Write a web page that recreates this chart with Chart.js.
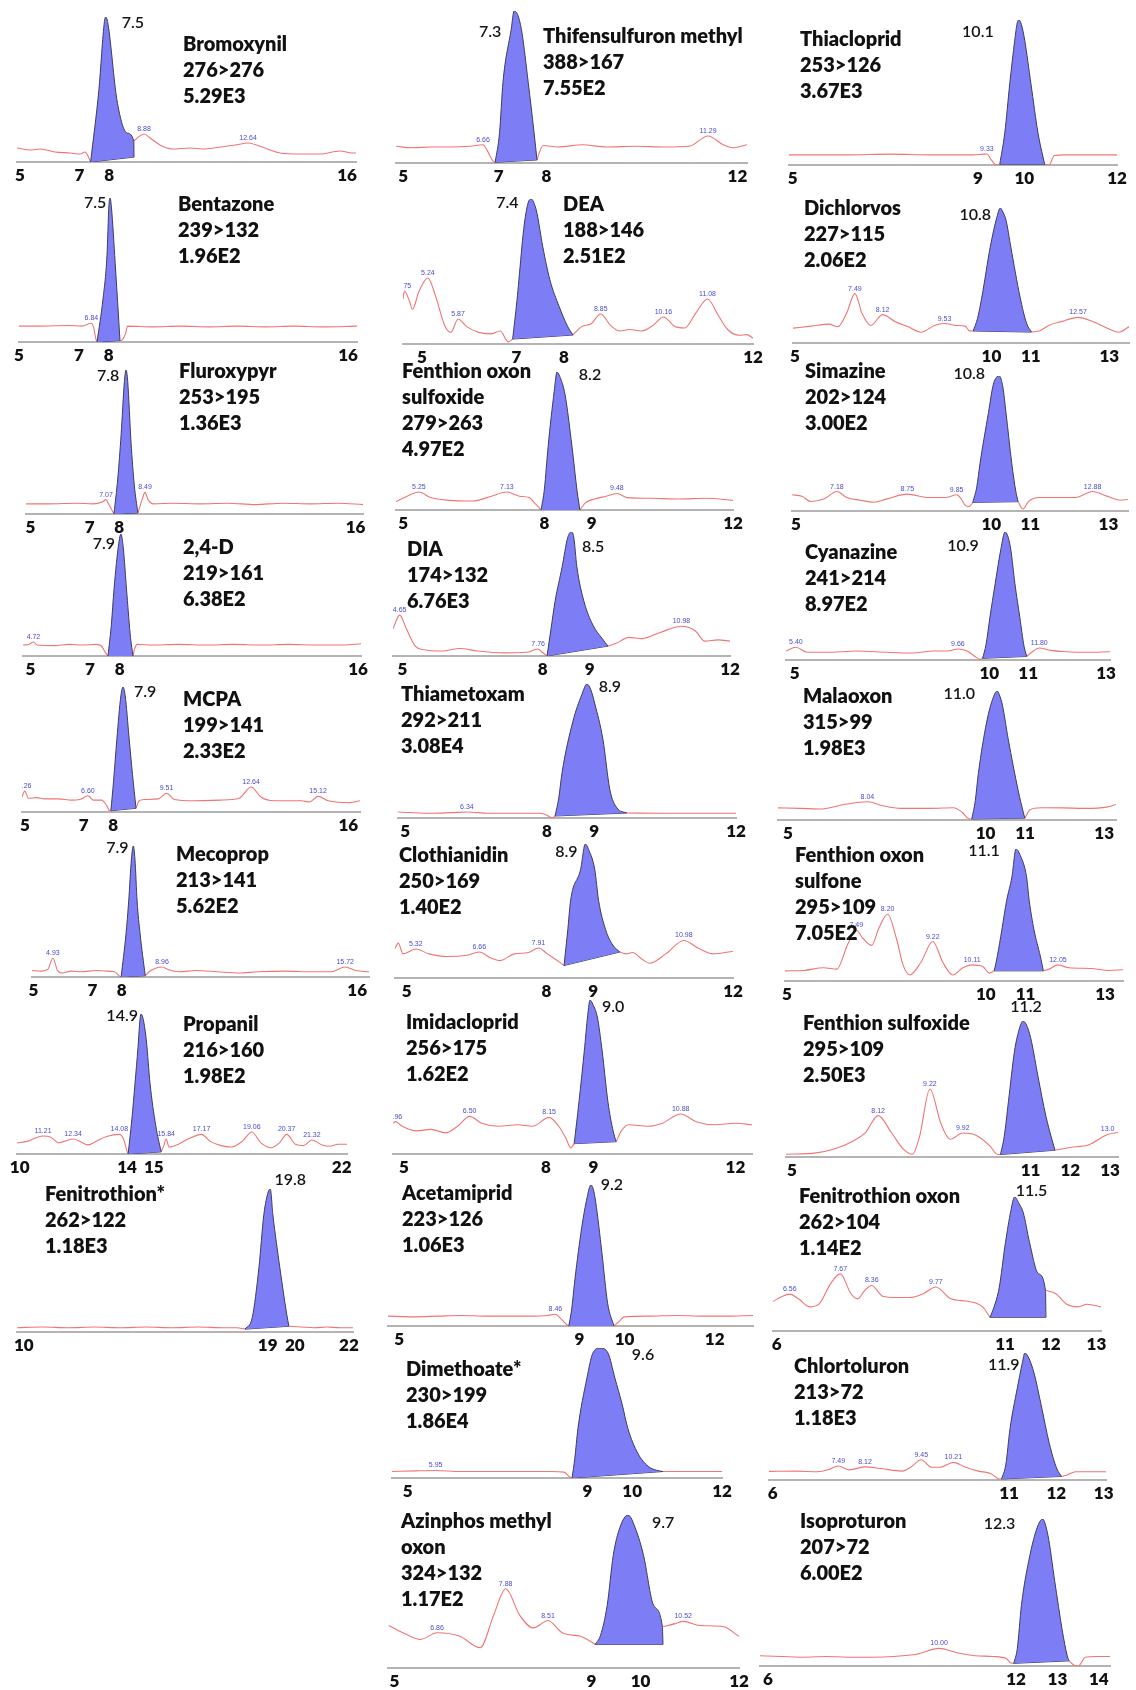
<!DOCTYPE html>
<html>
<head>
<meta charset="utf-8">
<script src="https://cdn.jsdelivr.net/npm/chart.js@4.4.1/dist/chart.umd.min.js"></script>
<style>
  html, body { margin: 0; padding: 0; background: #fff; }
  body { position: relative; width: 1136px; height: 1690px; overflow: hidden; font-family: Lato, "Open Sans", sans-serif; }
  canvas { position: absolute; }
  .info { position: absolute; font: 800 20px Lato, sans-serif; line-height: 26px; color: #111; white-space: nowrap; }
</style>
</head>
<body>
<script>
// ---- MRM chromatograms: one panel per compound, columns top to bottom ----

const compounds = [
  "Bromoxynil", "Bentazone", "Fluroxypyr", "2,4-D", "MCPA", "Mecoprop", "Propanil", "Fenitrothion*",
  "Thifensulfuron methyl", "DEA", "Fenthion oxon\nsulfoxide", "DIA", "Thiametoxam", "Clothianidin",
  "Imidacloprid", "Acetamiprid", "Dimethoate*", "Azinphos methyl\noxon",
  "Thiacloprid", "Dichlorvos", "Simazine", "Cyanazine", "Malaoxon", "Fenthion oxon\nsulfone",
  "Fenthion sulfoxide", "Fenitrothion oxon", "Chlortoluron", "Isoproturon"
];

const transitions = [
  "276>276", "239>132", "253>195", "219>161", "199>141", "213>141", "216>160", "262>122",
  "388>167", "188>146", "279>263", "174>132", "292>211", "250>169", "256>175", "223>126", "230>199", "324>132",
  "253>126", "227>115", "202>124", "241>214", "315>99", "295>109", "295>109", "262>104", "213>72", "207>72"
];

const areas = [
  "5.29E3", "1.96E2", "1.36E3", "6.38E2", "2.33E2", "5.62E2", "1.98E2", "1.18E3",
  "7.55E2", "2.51E2", "4.97E2", "6.76E3", "3.08E4", "1.40E2", "1.62E2", "1.06E3", "1.86E4", "1.17E2",
  "3.67E3", "2.06E2", "3.00E2", "8.97E2", "1.98E3", "7.05E2", "2.50E3", "1.14E2", "1.18E3", "6.00E2"
];

// retention time (min) of the integrated peak
const apexRT = [
  7.5, 7.5, 7.8, 7.9, 7.9, 7.9, 14.9, 19.8,
  7.3, 7.4, 8.2, 8.5, 8.9, 8.9, 9.0, 9.2, 9.6, 9.7,
  10.1, 10.8, 10.8, 10.9, 11.0, 11.1, 11.2, 11.5, 11.9, 12.3
];

const tickLabels = [
  [5, 7, 8, 16], [5, 7, 8, 16], [5, 7, 8, 16], [5, 7, 8, 16], [5, 7, 8, 16], [5, 7, 8, 16], [10, 14, 15, 22], [10, 19, 20, 22],
  [5, 7, 8, 12], [5, 7, 8, 12], [5, 8, 9, 12], [5, 8, 9, 12], [5, 8, 9, 12], [5, 8, 9, 12], [5, 8, 9, 12], [5, 9, 10, 12], [5, 9, 10, 12], [5, 9, 10, 12],
  [5, 9, 10, 12], [5, 10, 11, 13], [5, 10, 11, 13], [5, 10, 11, 13], [5, 10, 11, 13], [5, 10, 11, 13], [5, 11, 12, 13], [6, 11, 12, 13], [6, 11, 12, 13], [6, 12, 13, 14]
];

// small labelled background peaks (retention time as printed)
const minorPeaks = [
  ["8.88", "12.64"], ["6.84"], ["7.07", "8.49"], ["4.72"], ["4.26", "6.60", "9.51", "12.64", "15.12"],
  ["4.93", "8.96", "15.72"], ["11.21", "12.34", "14.08", "15.84", "17.17", "19.06", "20.37", "21.32"], [],
  ["6.66", "11.29"], ["4.75", "5.24", "5.87", "8.85", "10.16", "11.08"], ["5.25", "7.13", "9.48"], ["4.65", "7.76", "10.98"],
  ["6.34"], ["5.32", "6.66", "7.91", "10.98"], ["4.96", "6.50", "8.15", "10.88"], ["8.46"], ["5.95"], ["6.86", "7.88", "8.51", "10.52"],
  ["9.33"], ["7.49", "8.12", "9.53", "12.57"], ["7.18", "8.75", "9.85", "12.88"], ["5.40", "9.66", "11.80"], ["8.04"],
  ["7.49", "8.20", "9.22", "10.11", "12.05"], ["8.12", "9.22", "9.92", "13.0"], ["6.56", "7.67", "8.36", "9.77"],
  ["7.49", "8.12", "9.45", "10.21"], ["10.00"]
];

// background trace [time, % of peak height]; null marks the integrated peak window
const traces = [
  [[4.29,9.7],[4.76,8.3],[5.12,9],[5.66,6.9],[6.21,6.2],[6.57,5.5],[6.75,6.9],[6.88,3],[6.95,0], null, [8.52,14.5],[8.66,17],[8.88,19.3],[9.10,16.6],[9.46,11.7],[9.89,9],[10.54,9.7],[11.09,9],[11.63,10.3],[12.17,11.7],[12.64,13.1],[13.15,10.3],[13.8,6.2],[14.52,5.5],[15.24,5.5],[15.97,7.6],[16.4,6.2],[16.54,6.2]],
  [[4.28,11],[5,11],[6,11.5],[6.5,11],[6.84,13],[6.92,10],[7.0,2],[7.04,0], null, [7.85,1],[7.93,1.5],[8.05,6],[8.12,11],[9,10.5],[10,11],[11,10.5],[12,11],[13,10.5],[14,11],[15,10.5],[16.23,11]],
  [[4.16,7],[5,7],[6,7.5],[6.6,7],[6.95,8.5],[7.07,10],[7.15,7.5],[7.28,3],[7.36,0], null, [8.23,0.7],[8.3,5],[8.4,11],[8.49,15],[8.6,10],[8.8,7],[9.5,7.5],[10.5,7],[11.5,7.5],[12.5,6.5],[13.5,7.5],[14.5,7],[15.5,7.5],[16.42,6.5]],
  [[4.34,9],[4.55,9.5],[4.72,11.5],[4.85,9],[5.5,8.5],[6,9.5],[6.5,9],[7.0,9.5],[7.2,8],[7.33,3],[7.43,0], null, [8.34,0],[8.4,6],[8.5,9.5],[9,9],[10,9.5],[11,9],[12,9.5],[13,9],[14,9.5],[15,9],[16,9],[16.63,10]],
  [[4.16,12],[4.26,16.7],[4.4,11],[4.7,11.5],[5,10.5],[5.5,10.5],[6,9.5],[6.3,10],[6.6,13],[6.8,9.5],[7.1,9.5],[7.3,5],[7.38,1.5],[7.45,1], null, [8.38,3],[8.5,9],[8.7,10],[9.2,10.5],[9.51,15],[9.8,10],[10.5,9],[11.5,9.5],[12.2,11],[12.64,20],[13,12],[13.5,9],[14.5,9],[14.8,8],[15.12,12.5],[15.5,9],[16.3,7.5],[16.67,9]],
  [[4.16,5],[4.5,4.5],[4.75,6],[4.93,14.5],[5.1,5],[5.3,3],[5.6,4.5],[6.0,4],[6.5,5],[6.9,4.5],[7.2,4],[7.37,1],[7.45,0], null, [8.34,1],[8.48,4],[8.7,6.5],[8.96,7.6],[9.2,5.5],[9.6,4],[10.2,5],[11,4],[11.8,3],[12.5,4],[13.5,4.5],[14.5,4],[15.2,4],[15.72,7.6],[16.1,5],[16.6,4]],
  [[10.23,8],[10.6,9],[11.0,12],[11.21,12.9],[11.5,12],[11.8,8],[12.0,9],[12.34,10.7],[12.6,9],[12.9,6.5],[13.2,9],[13.6,12.5],[14.08,14],[14.25,10],[14.35,3],[14.41,0], null, [15.65,1.5],[15.75,6],[15.84,10.7],[15.95,5],[16.3,7],[16.7,11],[17.17,14],[17.5,9],[17.9,6],[18.3,5],[18.7,9],[19.06,15.7],[19.4,8],[19.8,4.5],[20.1,8],[20.37,14],[20.7,7],[21.0,6],[21.32,10],[21.7,6.5],[22.0,5.5],[22.3,7],[22.64,7]],
  [[10.0,3],[11,3.5],[12,3],[13,3.5],[14,3],[15,3.5],[16,3],[17,3.5],[18,3],[18.5,3],[18.82,2], null, [20.52,4],[21,3.5],[21.5,3],[22,3.5],[22.5,3],[23.0,3]],

  [[4.87,11],[5.2,10],[5.6,10.5],[6.0,10.5],[6.4,11],[6.66,12],[6.75,8],[6.85,2],[6.91,0.5], null, [7.77,2],[7.82,7],[7.9,11.5],[8.2,10.5],[8.7,12],[9.2,10.5],[9.8,11],[10.4,10.5],[10.9,11],[11.29,17.8],[11.6,12],[11.8,10],[12.09,12]],
  [[4.72,31],[4.75,36.6],[4.85,30],[4.92,24],[5.05,36],[5.24,45.5],[5.4,33],[5.6,12],[5.72,8],[5.87,17.2],[6.05,12],[6.3,8],[6.55,7],[6.75,9],[6.92,1.5],[7.01,3.4], null, [8.27,6.2],[8.45,12],[8.65,14],[8.85,20.7],[9.05,13],[9.25,9],[9.45,10],[9.7,9],[9.95,13],[10.16,18.6],[10.4,12],[10.6,11],[10.85,22],[11.08,31],[11.3,20],[11.5,10],[11.75,6],[11.9,6.5],[12.03,4]],
  [[4.76,6],[5.0,10],[5.25,13],[5.5,9],[5.9,7],[6.4,6.5],[6.8,10],[7.13,13],[7.4,10],[7.6,9],[7.75,4],[7.86,0], null, [8.69,0],[8.8,5],[9.0,8],[9.25,10],[9.48,12],[9.7,9],[10.2,8.5],[10.8,8],[11.4,8.5],[11.96,7]],
  [[4.5,22],[4.65,33],[4.8,22],[5.0,8],[5.2,5],[5.6,4],[6.0,6],[6.4,4],[7.0,2.5],[7.5,3],[7.68,5],[7.76,5.6],[7.85,3],[7.96,0], null, [9.33,8],[9.5,10],[9.8,15],[10.1,14],[10.5,19],[10.98,24],[11.3,20],[11.5,12],[11.8,13],[12.07,12]],
  [[4.87,4.5],[5.5,3.5],[6.0,4],[6.34,4.5],[6.8,3.5],[7.5,3.5],[7.9,3.5],[8.05,2],[8.15,0],[8.22,1.5], null, [9.75,3.7],[10.5,3.5],[11.3,3.5],[12.08,3.5]],
  [[4.88,22],[4.95,26],[5.05,18],[5.32,21.6],[5.6,18],[6.0,16],[6.4,17],[6.66,19.4],[6.9,15],[7.1,13],[7.4,18],[7.7,19],[7.91,22.4],[8.1,18],[8.35,12],[8.45,9.3], null, [9.63,19.4],[9.75,18],[9.9,19],[10.1,14],[10.26,11],[10.6,18],[10.98,28],[11.3,22],[11.6,18],[12.02,20]],
  [[4.91,20],[4.96,21],[5.1,18],[5.4,15],[5.7,16],[6.0,13.7],[6.25,18],[6.5,24.4],[6.75,20],[7.1,18],[7.5,19],[7.8,18],[8.15,23.8],[8.35,18],[8.5,10],[8.6,4],[8.67,6.7], null, [9.54,8],[9.65,15],[9.8,19],[10.2,18],[10.5,20],[10.88,26],[11.2,21],[11.6,19],[12.0,20],[12.36,19]],
  [[4.97,7],[5.5,6.5],[6.0,7],[6.5,7.5],[7.0,7],[7.5,7],[8.0,7],[8.3,7.5],[8.46,8.3],[8.55,6],[8.68,1.5],[8.74,0], null, [9.68,0],[9.78,3],[9.9,6.5],[10.4,7],[11,7.5],[11.5,7],[12,7],[12.58,7.5]],
  [[4.98,5],[5.5,5.5],[5.95,5.8],[6.5,5],[7,5],[7.5,5],[8,5],[8.5,5],[8.8,4.5],[8.92,1],[8.98,0], null, [11.0,5],[11.5,5],[12.0,5],[12.31,5]],
  [[6.14,27.8],[6.4,22],[6.61,18.7],[6.86,23],[7.2,20.7],[7.5,13.2],[7.7,34.4],[7.88,51.8],[8.09,34.4],[8.29,26.2],[8.51,31],[8.72,23],[8.99,20.7],[9.12,18],[9.21,15.4], null, [10.22,27],[10.4,29],[10.52,30.5],[10.77,27.8],[11.12,27],[11.35,20.7]],

  [[4.57,7],[6,7],[7,7.5],[8,7],[9,7],[9.25,7.5],[9.33,7.6],[9.45,3],[9.56,0],[9.64,0.5], null, [10.72,0.5],[10.83,0],[10.95,6.5],[11.2,7],[12,7],[12.46,7]],
  [[6.08,11],[6.5,12.5],[6.9,14],[7.1,12],[7.3,22],[7.49,36.6],[7.65,22],[7.85,13],[8.12,21],[8.4,16],[8.7,12],[9.0,8],[9.3,13],[9.53,14.4],[9.8,13],[10.0,12.5],[10.1,9],[10.18,8.9], null, [11.51,8.1],[11.7,9],[11.9,13],[12.2,16],[12.57,19],[12.9,16],[13.3,10],[13.5,8],[13.73,12]],
  [[6.18,12],[6.4,11],[6.6,7],[6.9,9],[7.18,14.4],[7.4,10],[7.7,8],[8.0,6.5],[8.3,9],[8.75,12.5],[9.2,10],[9.6,10],[9.85,12],[9.95,9],[10.05,4],[10.13,3.4],[10.21,6.4], null, [11.22,6.9],[11.33,1.5],[11.45,7],[11.7,10],[12.1,10],[12.5,10],[12.88,14.4],[13.2,11],[13.5,8],[13.67,8.5]],
  [[5.14,7],[5.4,10],[5.7,6],[6.2,6],[7,7],[7.8,6],[8.5,5.5],[9.0,7],[9.4,7],[9.66,8.6],[9.9,7],[10.1,3],[10.25,0.5],[10.31,1.3], null, [11.47,2.8],[11.6,6],[11.8,9.4],[12.1,7.5],[12.5,6.5],[13.0,6],[13.66,6.5]],
  [[6.0,9.4],[6.5,9],[7,8.5],[7.5,12],[8.04,14.2],[8.4,11],[8.8,9],[9.5,9],[10.0,9.5],[10.2,6],[10.35,1],[10.42,0.8], null, [11.63,1.4],[11.75,8],[12.0,9.5],[12.5,9.4],[13,9],[13.5,10],[13.71,12]],
  [[5.88,7.7],[6.3,8],[6.75,10],[7.05,9],[7.3,28],[7.49,38.5],[7.65,32],[7.84,27],[8.0,40],[8.2,50.6],[8.4,32],[8.55,12],[8.7,4.6],[8.95,14],[9.22,29.9],[9.45,14],[9.67,4.6],[9.9,10],[10.11,12.2],[10.35,11],[10.5,6],[10.61,7.7], null, [11.72,7.7],[11.85,9],[12.05,12.2],[12.3,10],[12.8,9.5],[13.2,8],[13.52,8.5]],
  [[6.16,2],[6.8,3],[7.2,6],[7.6,12],[7.85,18],[8.12,30.4],[8.4,18],[8.65,6],[8.85,2],[9.0,15],[9.22,50],[9.45,25],[9.65,13],[9.92,17.7],[10.2,16],[10.5,8],[10.65,2],[10.72,1.8], null, [11.88,5],[12.2,7],[12.6,9],[13.0,16.6],[13.22,18]],
  [[6.19,22],[6.4,26],[6.56,27.5],[6.75,24],[7.0,18],[7.2,20],[7.45,35],[7.67,42.6],[7.9,28],[8.05,24],[8.2,30],[8.36,34],[8.6,26],[8.9,25],[9.2,25],[9.5,28],[9.77,32.8],[10.1,24],[10.5,22],[10.8,18],[10.96,10.2], null, [12.19,30.2],[12.4,28],[12.65,20],[12.9,18],[13.1,20],[13.4,18]],
  [[5.85,6.8],[6.5,7],[7.0,6.5],[7.25,8],[7.49,11],[7.75,8],[8.12,10.3],[8.5,9],[9.0,7],[9.2,10],[9.45,15.9],[9.7,10],[9.9,10],[10.21,13.9],[10.5,10],[10.8,7],[11.1,5],[11.28,1],[11.35,0.8], null, [12.77,2.8],[12.9,4],[13.1,6.5],[13.5,6.5],[13.82,6.5]],
  [[6.02,7],[6.5,6.5],[7,6],[7.5,6.5],[8,6],[8.5,6],[9,6.5],[9.5,8],[10.0,12],[10.4,9],[10.8,7],[11.2,6.5],[11.5,5],[11.6,2],[11.66,1.8], null, [12.89,3.5],[13.0,0.5],[13.1,0],[13.25,6],[13.5,6.5],[13.8,6.5]]
];

// integrated peak outline [time, % height]; first and last points define its baseline
const peaks = [
  [[6.95,0],[7.25,50],[7.45,97],[7.5,100],[7.58,95],[7.9,43],[8.27,20],[8.51,14.5],[8.52,3.4]],
  [[7.04,0],[7.25,30],[7.39,60],[7.46,95],[7.5,100],[7.55,93],[7.68,55],[7.85,1]],
  [[7.36,0],[7.5,25],[7.62,55],[7.74,92],[7.8,100],[7.86,92],[7.98,50],[8.1,20],[8.23,0.7]],
  [[7.43,0],[7.55,25],[7.65,55],[7.82,92],[7.9,100],[7.98,90],[8.12,50],[8.25,15],[8.34,0]],
  [[7.45,1],[7.55,25],[7.67,58],[7.82,93],[7.9,100],[7.98,93],[8.12,60],[8.25,30],[8.38,3]],
  [[7.45,0],[7.63,33],[7.73,58],[7.83,90],[7.9,100],[7.96,90],[8.04,58],[8.15,33],[8.34,1]],
  [[14.41,0],[14.55,25],[14.67,51],[14.78,76],[14.86,97],[14.9,100],[14.98,96],[15.1,80],[15.23,51],[15.45,20],[15.65,1.5]],
  [[18.82,2],[19.1,10],[19.36,45],[19.55,82],[19.72,98],[19.8,100],[19.9,82],[20.17,45],[20.44,12],[20.52,4]],

  [[6.91,0.5],[7.0,20],[7.07,53],[7.24,88],[7.3,100],[7.38,97],[7.46,86],[7.59,53],[7.71,20],[7.77,2]],
  [[7.01,3.4],[7.1,30],[7.14,44],[7.24,79],[7.33,97],[7.4,100],[7.47,96],[7.52,90],[7.64,67],[7.79,44],[7.98,26],[8.16,12],[8.27,6.2]],
  [[7.86,0],[7.93,15],[8.01,46],[8.14,86],[8.2,100],[8.28,95],[8.37,84],[8.52,46],[8.63,13.5],[8.69,0]],
  [[7.96,0],[8.05,22],[8.14,44],[8.3,72],[8.42,95],[8.5,100],[8.56,96],[8.63,72],[8.79,44],[8.99,25],[9.2,14],[9.33,8]],
  [[8.22,1.5],[8.3,15],[8.37,34],[8.6,72],[8.79,92],[8.9,100],[8.98,96],[9.07,85],[9.24,59],[9.39,21],[9.54,7.5],[9.75,3.7]],
  [[8.45,9.3],[8.53,36],[8.59,58],[8.8,81],[8.9,100],[8.98,95],[9.1,81],[9.18,58],[9.33,36],[9.48,24.6],[9.63,19.4]],
  [[8.67,6.7],[8.77,34],[8.88,67],[8.95,90],[9.0,100],[9.06,97],[9.15,89],[9.25,67],[9.37,34],[9.48,14.7],[9.54,8]],
  [[8.74,0],[8.8,12],[8.87,34],[9.01,70],[9.12,91],[9.2,100],[9.25,97],[9.3,88],[9.43,52],[9.55,16],[9.68,0]],
  [[8.98,0],[9.04,15],[9.11,38],[9.31,77],[9.44,96],[9.6,100],[9.78,96],[9.93,77],[10.09,57],[10.22,38],[10.44,19],[10.67,9],[10.85,6],[11.0,5]],
  [[9.21,15.4],[9.29,21.3],[9.39,41],[9.48,73.7],[9.58,92],[9.7,100],[9.82,90],[9.93,73.7],[10.08,41],[10.21,27],[10.22,15.4]],

  [[9.64,0.5],[9.76,22],[9.88,56],[10.0,86],[10.06,98],[10.1,100],[10.16,97],[10.24,86],[10.39,56],[10.56,22],[10.68,5.5],[10.72,0.5]],
  [[10.18,8.9],[10.28,18],[10.38,34],[10.57,71],[10.72,93],[10.8,100],[10.86,97],[10.93,91],[11.04,71],[11.25,34],[11.4,14.4],[11.51,8.1]],
  [[10.21,6.4],[10.3,18],[10.37,35],[10.56,73],[10.67,94],[10.8,100],[10.88,92],[10.95,73],[11.08,35],[11.17,14.4],[11.22,6.9]],
  [[10.31,1.3],[10.4,12],[10.5,33],[10.64,59.5],[10.79,86.5],[10.9,100],[10.97,97],[11.05,86.5],[11.16,59.5],[11.29,33],[11.4,10.7],[11.47,2.8]],
  [[10.42,0.8],[10.5,15],[10.57,36],[10.76,76],[10.91,95],[11.0,100],[11.05,97],[11.12,89],[11.25,63],[11.48,22.7],[11.59,6.7],[11.63,1.4]],
  [[10.61,7.7],[10.68,19],[10.78,38.5],[10.89,61],[11.01,79],[11.1,100],[11.2,95],[11.34,79],[11.4,61],[11.51,38.5],[11.65,19],[11.72,7.7]],
  [[10.72,1.8],[10.8,15],[10.89,40.7],[11.02,78],[11.12,94],[11.2,100],[11.3,95],[11.38,85],[11.52,59],[11.69,29.6],[11.83,11],[11.88,5]],
  [[10.96,10.2],[11.05,18],[11.16,32],[11.3,66],[11.42,90],[11.5,100],[11.6,95],[11.69,88.5],[11.83,66],[12.02,43],[12.18,30.2],[12.19,10.2]],
  [[11.35,0.8],[11.45,12],[11.55,40.5],[11.72,72],[11.84,92],[11.9,100],[11.98,97],[12.12,84],[12.28,60],[12.48,28.7],[12.66,8.7],[12.77,2.8]],
  [[11.66,1.8],[11.74,12],[11.83,41],[12.02,75.4],[12.18,94],[12.3,100],[12.42,89],[12.57,58],[12.74,24],[12.85,6.9],[12.89,3.5]]
];

// acquisition window shown in each trace (min)
const timeRange = [
  [4.29,16.54],[4.28,16.23],[4.16,16.42],[4.34,16.63],[4.16,16.67],[4.16,16.6],[10.23,22.64],[10.0,23.0],
  [4.87,12.09],[4.72,12.03],[4.76,11.96],[4.5,12.07],[4.87,12.08],[4.88,12.02],[4.91,12.36],[4.97,12.58],[4.98,12.31],[6.13,11.35],
  [4.57,12.46],[6.08,13.73],[6.18,13.67],[5.14,13.66],[6.0,13.71],[5.88,13.52],[6.16,13.22],[6.19,13.4],[5.85,13.82],[6.02,13.8]
];

// range of the annotated time axis under each trace
const tickRange = [
  [4.9,16.3],[5.0,16.3],[4.85,16.25],[4.75,16.1],[4.9,16.4],[4.95,16.4],[9.9,22.2],[9.75,22.15],
  [4.85,12.2],[4.6,12.0],[4.85,12.0],[4.8,12.0],[4.85,12.0],[4.75,12.0],[4.77,12.35],[4.75,12.85],[4.65,12.0],[4.87,12.0],
  [4.92,12.0],[4.95,13.5],[4.9,13.5],[4.78,13.1],[4.75,13.3],[4.95,13.45],[4.85,13.2],[5.92,13.1],[5.92,13.05],[5.81,14.27]
];

// ---- page layout: plot box [left, right, apex y, axis y], text block, RT label offset ----
const boxes = [
  [17,356,17,162],[19,357,198,342],[26,363,370,514],[23,361,534,656],[22,360,687,812],[32,369,846,977],[17,347,1014,1154],[17,353,1189,1332],
  [396,747,11,163],[403,753,199,344],[396,733,372,510],[393,730,532,656],[398,736,684,818],[395,733,844,978],[393,752,1000,1154],[388,753,1185,1326],[392,722,1348,1478],[388,739,1515,1668],
  [789,1117,20,165],[793,1129,208,343],[792,1128,376,511],[786,1110,532,660],[778,1116,691,820],[785,1123,849,981],[786,1118,1021,1157],[773,1101,1197,1331],[769,1106,1353,1480],[760,1110,1519,1666]
];
const infoPos = [
  [183,43],[178,203],[179,370],[183,546],[183,698],[176,853],[183,1023],[45,1193],
  [543,35],[563,203],[402,370],[407,548],[401,693],[399,854],[406,1021],[402,1192],[406,1368],[401,1520],
  [800,38],[804,207],[805,370],[805,551],[803,695],[795,854],[803,1022],[799,1195],[794,1365],[800,1520]
];
const rtOffset = [
  [27,6],[-15,5],[-18,6],[-17,10],[22,5],[-16,2],[-19,2],[20,-9],
  [-24,21],[-24,4],[33,3],[22,15],[23,3],[-19,8],[23,7],[21,0],[43,7],[35,8],
  [-41,12],[-25,7],[-30,-2],[-42,14],[-38,3],[-32,2],[3,-14],[17,-6],[-21,12],[-43,5]
];

const PAD_X = 20, PAD_TOP = 22, AXIS_H = 24;
const TRACE_COLOR = '#f07575';
const PEAK_FILL = '#7d7df5';
const PEAK_EDGE = '#3c3c5c';

const toPoints = arr => arr.map(p => ({ x: p[0], y: p[1] }));

// writes the retention-time label on the integrated peak and the small labels on background peaks
const peakLabels = {
  id: 'peakLabels',
  afterDatasetsDraw(chart, args, opts) {
    const { ctx, chartArea, scales } = chart;
    const xs = scales.x, ys = scales.y;
    const pk = chart.data.datasets[0].data;
    let apex = pk[0];
    for (const p of pk) if (p.y > apex.y) apex = p;
    ctx.save();
    ctx.font = '600 16px Lato, sans-serif';
    ctx.fillStyle = '#151515';
    ctx.textAlign = 'center';
    ctx.textBaseline = 'middle';
    ctx.fillText(opts.rt.toFixed(1), xs.getPixelForValue(apex.x) + opts.dx, ys.getPixelForValue(apex.y) + opts.dy);

    ctx.beginPath();
    ctx.rect(chartArea.left, 0, chartArea.right - chartArea.left, chart.height);
    ctx.clip();
    ctx.font = '7px "Liberation Sans", Arial, sans-serif';
    ctx.fillStyle = '#4a4ad0';
    ctx.textBaseline = 'alphabetic';
    for (const label of opts.minor) {
      const t = parseFloat(label);
      const pt = opts.trace.find(p => p && Math.abs(p[0] - t) < 1e-9);
      if (!pt) continue;
      ctx.fillText(label, xs.getPixelForValue(t), ys.getPixelForValue(pt[1]) - 3);
    }
    ctx.restore();
  }
};

compounds.forEach((name, i) => {
  const [L, R, top, axis] = boxes[i];
  const cv = document.createElement('canvas');
  cv.width = R - L + 2 * PAD_X;
  cv.height = axis - top + PAD_TOP + AXIS_H;
  cv.style.left = (L - PAD_X) + 'px';
  cv.style.top = (top - PAD_TOP) + 'px';
  document.body.appendChild(cv);

  const trace = traces[i];
  const cut = trace.indexOf(null);
  const before = toPoints(trace.slice(0, cut));
  const after = toPoints(trace.slice(cut + 1));
  const peak = toPoints(peaks[i]);
  const base = [peak[0], peak[peak.length - 1]];
  const ticks = tickLabels[i];

  const line = { pointRadius: 0, xAxisID: 'x', yAxisID: 'y', cubicInterpolationMode: 'monotone' };

  new Chart(cv, {
    type: 'line',
    data: {
      datasets: [
        { ...line, data: peak, borderColor: PEAK_EDGE, borderWidth: 1, backgroundColor: PEAK_FILL, fill: '+1' },
        { ...line, data: base, borderColor: PEAK_EDGE, borderWidth: 1, fill: false, cubicInterpolationMode: 'default', tension: 0 },
        { ...line, data: before, borderColor: TRACE_COLOR, borderWidth: 1.1, fill: false },
        { ...line, data: after, borderColor: TRACE_COLOR, borderWidth: 1.1, fill: false }
      ]
    },
    options: {
      responsive: false,
      animation: false,
      devicePixelRatio: 1,
      events: [],
      layout: { padding: { left: PAD_X, right: PAD_X, top: PAD_TOP, bottom: 0 } },
      plugins: {
        legend: { display: false },
        tooltip: { enabled: false },
        peakLabels: { rt: apexRT[i], dx: rtOffset[i][0], dy: rtOffset[i][1], minor: minorPeaks[i], trace: trace }
      },
      scales: {
        x: { type: 'linear', min: timeRange[i][0], max: timeRange[i][1], display: false },
        xt: {
          type: 'linear',
          position: 'bottom',
          min: tickRange[i][0],
          max: tickRange[i][1],
          grid: { display: false, drawTicks: false },
          border: { display: true, color: '#b4b4b4', width: 2 },
          ticks: {
            autoSkip: false,
            maxRotation: 0,
            padding: 3,
            color: '#111',
            font: { family: 'Lato', size: 17, weight: '800' },
            callback: v => String(v)
          },
          afterBuildTicks: scale => { scale.ticks = ticks.map(v => ({ value: v })); },
          afterFit: scale => { scale.height = AXIS_H; }
        },
        y: { type: 'linear', min: 0, max: 100, display: false }
      }
    },
    plugins: [peakLabels]
  });

  const info = document.createElement('div');
  info.className = 'info';
  info.style.left = infoPos[i][0] + 'px';
  info.style.top = (infoPos[i][1] - 13) + 'px';
  const lines = [...name.split('\n'), transitions[i], areas[i]];
  lines.forEach((txt, k) => {
    if (k) info.appendChild(document.createElement('br'));
    info.appendChild(document.createTextNode(txt));
  });
  document.body.appendChild(info);
});
</script>
</body>
</html>
